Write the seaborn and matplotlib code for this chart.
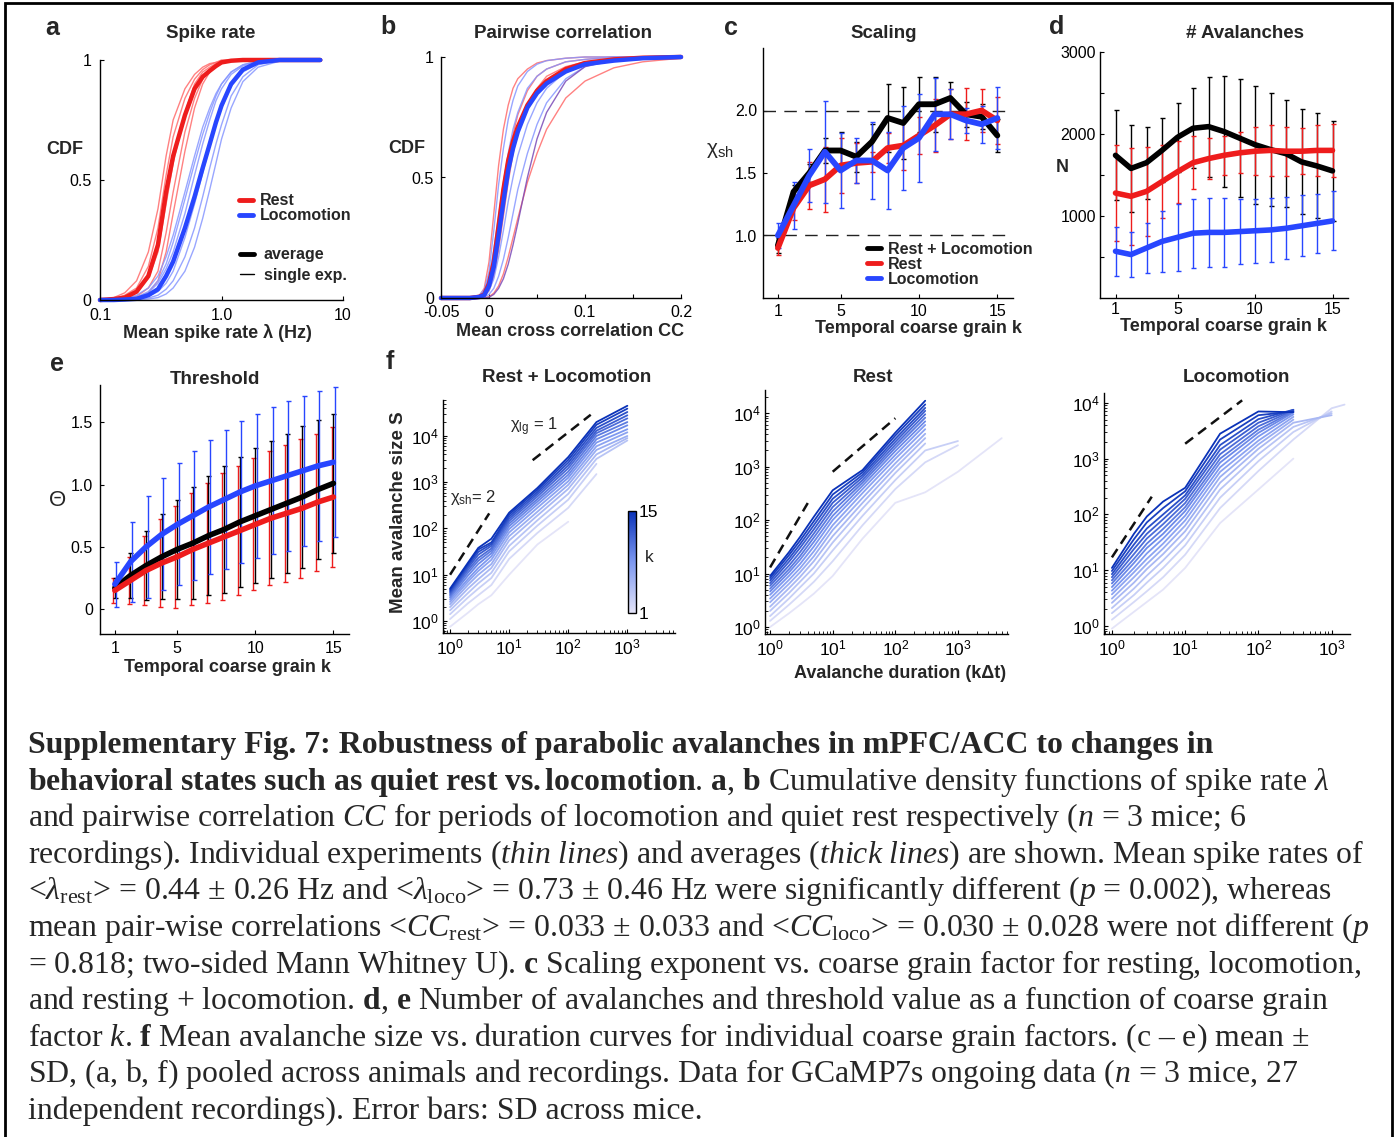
import numpy as np
import pandas as pd
import matplotlib
matplotlib.use('Agg')
import matplotlib.pyplot as plt
import seaborn as sns
from matplotlib.colors import LinearSegmentedColormap, Normalize
from matplotlib.cm import ScalarMappable
from matplotlib.lines import Line2D
from matplotlib.patches import Rectangle
from matplotlib.ticker import FixedLocator, NullLocator, FuncFormatter, LogLocator, NullFormatter

nan = np.nan
# ---------------- panel a : spike-rate CDFs ----------------
lam_grid = [0.1, 0.13, 0.16, 0.2, 0.25, 0.3, 0.35, 0.4, 0.5, 0.6, 0.7, 0.8, 0.9, 1.0, 1.2, 1.5, 2.0, 3.0, 5.0, 6.5]
rate_rest_avg = [0, 0.004, 0.01, 0.035, 0.1, 0.23, 0.45, 0.6, 0.77, 0.88, 0.93, 0.955, 0.975, 0.99, 0.997, 1, 1, 1, 1, 1]
rate_loco_avg = [0, 0, 0.002, 0.005, 0.02, 0.045, 0.1, 0.16, 0.3, 0.43, 0.55, 0.65, 0.74, 0.81, 0.9, 0.96, 0.99, 1, 1, 1]
rate_rest_single = [
    [0, 0.01, 0.03, 0.08, 0.2, 0.38, 0.6, 0.75, 0.88, 0.94, 0.97, 0.985, 0.99, 1, 1, 1, 1, 1, 1, 1],
    [0, 0.005, 0.02, 0.05, 0.14, 0.3, 0.52, 0.68, 0.84, 0.92, 0.96, 0.98, 0.99, 0.995, 1, 1, 1, 1, 1, 1],
    [0, 0.002, 0.008, 0.03, 0.09, 0.2, 0.4, 0.57, 0.78, 0.9, 0.95, 0.97, 0.985, 0.99, 1, 1, 1, 1, 1, 1],
    [0, 0.001, 0.004, 0.015, 0.05, 0.12, 0.28, 0.45, 0.7, 0.84, 0.92, 0.96, 0.98, 0.99, 1, 1, 1, 1, 1, 1],
    [0, 0, 0.002, 0.008, 0.03, 0.08, 0.2, 0.36, 0.62, 0.8, 0.9, 0.95, 0.97, 0.985, 0.995, 1, 1, 1, 1, 1],
]
rate_loco_single = [
    [0, 0.002, 0.006, 0.02, 0.05, 0.1, 0.18, 0.27, 0.45, 0.6, 0.72, 0.8, 0.86, 0.9, 0.95, 0.98, 0.995, 1, 1, 1],
    [0, 0.001, 0.003, 0.01, 0.03, 0.07, 0.13, 0.2, 0.36, 0.52, 0.65, 0.75, 0.83, 0.88, 0.94, 0.975, 0.99, 1, 1, 1],
    [0, 0, 0.001, 0.004, 0.015, 0.035, 0.07, 0.12, 0.26, 0.4, 0.53, 0.64, 0.73, 0.8, 0.89, 0.95, 0.985, 1, 1, 1],
    [0, 0, 0, 0.002, 0.008, 0.02, 0.045, 0.08, 0.18, 0.3, 0.43, 0.55, 0.65, 0.73, 0.85, 0.93, 0.98, 0.998, 1, 1],
    [0, 0, 0, 0.001, 0.004, 0.01, 0.025, 0.05, 0.12, 0.22, 0.34, 0.46, 0.57, 0.67, 0.8, 0.91, 0.97, 0.995, 1, 1],
    [0, 0.001, 0.004, 0.012, 0.035, 0.08, 0.15, 0.24, 0.42, 0.57, 0.69, 0.78, 0.85, 0.9, 0.95, 0.98, 0.995, 1, 1, 1],
]

# ---------------- panel b : correlation CDFs ----------------
cc_grid = [-0.05, -0.02, -0.01, -0.005, 0, 0.005, 0.01, 0.015, 0.02, 0.025, 0.03, 0.04, 0.05, 0.06, 0.08, 0.1, 0.13, 0.16, 0.2]
cc_rest_avg = [0, 0, 0.005, 0.015, 0.06, 0.15, 0.3, 0.45, 0.57, 0.65, 0.71, 0.8, 0.86, 0.9, 0.95, 0.975, 0.99, 0.997, 1]
cc_loco_avg = [0, 0, 0.004, 0.012, 0.05, 0.13, 0.26, 0.4, 0.53, 0.62, 0.69, 0.79, 0.85, 0.89, 0.94, 0.97, 0.985, 0.995, 1]
cc_rest_single = [
    [0, 0, 0.01, 0.04, 0.15, 0.35, 0.55, 0.7, 0.8, 0.87, 0.91, 0.95, 0.975, 0.985, 0.995, 1, 1, 1, 1],
    [0, 0, 0.003, 0.01, 0.04, 0.12, 0.27, 0.43, 0.57, 0.68, 0.76, 0.86, 0.92, 0.95, 0.98, 0.99, 1, 1, 1],
    [0, 0, 0, 0.001, 0.005, 0.02, 0.05, 0.1, 0.17, 0.25, 0.33, 0.48, 0.6, 0.7, 0.83, 0.9, 0.955, 0.98, 0.995],
    [0, 0, 0.002, 0.008, 0.03, 0.09, 0.2, 0.34, 0.48, 0.6, 0.69, 0.8, 0.87, 0.92, 0.96, 0.98, 0.995, 1, 1],
]
cc_loco_single = [
    [0, 0.001, 0.01, 0.03, 0.11, 0.28, 0.47, 0.62, 0.74, 0.82, 0.88, 0.94, 0.97, 0.985, 0.995, 1, 1, 1, 1],
    [0, 0.002, 0.012, 0.035, 0.09, 0.2, 0.34, 0.48, 0.6, 0.7, 0.77, 0.87, 0.92, 0.95, 0.98, 0.99, 1, 1, 1],
    [0, 0, 0.003, 0.01, 0.03, 0.08, 0.17, 0.28, 0.4, 0.5, 0.59, 0.72, 0.81, 0.87, 0.94, 0.97, 0.99, 1, 1],
    [0, 0, 0.001, 0.004, 0.015, 0.04, 0.09, 0.16, 0.25, 0.35, 0.45, 0.6, 0.72, 0.81, 0.91, 0.96, 0.985, 0.995, 1],
]
cc_mixed_single = [0, 0, 0, 0, 0.003, 0.015, 0.04, 0.08, 0.14, 0.22, 0.31, 0.5, 0.66, 0.77, 0.9, 0.96, 0.99, 0.997, 1]

# ---------------- panels c-e ----------------
k_values = list(range(1, 16))
chi_both = [0.92, 1.35, 1.50, 1.68, 1.68, 1.63, 1.75, 1.94, 1.90, 2.05, 2.05, 2.10, 1.97, 1.95, 1.80]
chi_both_sd = [0.06, 0.05, 0.07, 0.10, 0.15, 0.12, 0.14, 0.27, 0.29, 0.22, 0.22, 0.13, 0.10, 0.10, 0.13]
chi_rest = [0.90, 1.22, 1.40, 1.45, 1.56, 1.58, 1.59, 1.70, 1.72, 1.80, 1.88, 1.97, 1.97, 2.00, 1.92]
chi_rest_sd = [0.06, 0.10, 0.19, 0.26, 0.22, 0.16, 0.08, 0.12, 0.20, 0.15, 0.21, 0.20, 0.21, 0.17, 0.19]
chi_loco = [1.00, 1.24, 1.48, 1.67, 1.52, 1.60, 1.60, 1.52, 1.70, 1.78, 1.97, 1.97, 1.92, 1.89, 1.94]
chi_loco_sd = [0.10, 0.19, 0.21, 0.41, 0.30, 0.18, 0.31, 0.31, 0.34, 0.35, 0.29, 0.20, 0.10, 0.15, 0.25]

n_both = [1740, 1580, 1650, 1800, 1960, 2070, 2090, 2030, 1950, 1870, 1810, 1760, 1660, 1610, 1550]
n_both_sd = [550, 530, 440, 390, 420, 490, 610, 680, 720, 720, 690, 650, 640, 640, 610]
n_rest = [1280, 1240, 1300, 1420, 1540, 1650, 1700, 1740, 1770, 1790, 1800, 1790, 1790, 1800, 1800]
n_rest_sd = [590, 590, 540, 450, 380, 320, 250, 240, 250, 290, 310, 300, 280, 310, 320]
n_loco = [570, 530, 610, 690, 740, 790, 800, 800, 810, 820, 830, 850, 880, 910, 940]
n_loco_sd = [300, 280, 310, 370, 410, 420, 420, 420, 400, 390, 390, 380, 370, 360, 360]

theta_both = [0.17, 0.27, 0.35, 0.42, 0.48, 0.53, 0.59, 0.64, 0.70, 0.75, 0.80, 0.85, 0.90, 0.96, 1.01]
theta_both_sd = [0.08, 0.18, 0.28, 0.34, 0.40, 0.45, 0.48, 0.51, 0.52, 0.54, 0.55, 0.56, 0.57, 0.56, 0.56]
theta_rest = [0.15, 0.23, 0.31, 0.37, 0.42, 0.48, 0.53, 0.58, 0.63, 0.68, 0.73, 0.77, 0.81, 0.86, 0.90]
theta_rest_sd = [0.10, 0.19, 0.28, 0.35, 0.41, 0.45, 0.48, 0.51, 0.52, 0.53, 0.54, 0.55, 0.56, 0.55, 0.56]
theta_loco = [0.20, 0.38, 0.50, 0.60, 0.68, 0.75, 0.82, 0.88, 0.94, 0.99, 1.03, 1.07, 1.11, 1.15, 1.18]
theta_loco_sd = [0.18, 0.32, 0.41, 0.45, 0.49, 0.52, 0.54, 0.56, 0.57, 0.58, 0.59, 0.60, 0.60, 0.60, 0.60]

# ---------------- panel f : size vs duration, one row per k=1..15 ----------------
dur_both = [1, 2, 3, 5, 10, 30, 100, 300, 1000]
size_both = [
    [0.75, 1.5, 2.3, 3.6, 10, 45, 140, nan, nan],
    [1.1, 2.4, 3.6, 6, 22, 80, 280, 1500, nan],
    [1.4, 3.2, 5, 8.5, 32, 115, 420, 2500, nan],
    [1.7, 4.0, 6.5, 11, 42, 150, 560, 3200, 8000],
    [2.0, 5.0, 8, 14, 55, 190, 720, 4000, 9000],
    [2.3, 6, 10, 17, 68, 230, 880, 5000, 10000],
    [2.6, 7, 12, 21, 82, 280, 1050, 6000, 12000],
    [2.9, 8, 14, 25, 97, 330, 1250, 7200, 14000],
    [3.2, 9.5, 17, 29, 112, 380, 1450, 8500, 17000],
    [3.5, 11, 20, 33, 128, 430, 1700, 10000, 20000],
    [3.8, 12.5, 23, 37, 145, 490, 2000, 11500, 24000],
    [4.1, 14, 27, 42, 162, 550, 2300, 13000, 28000],
    [4.4, 15.5, 31, 46, 180, 610, 2650, 15000, 33000],
    [4.7, 17, 35, 50, 200, 680, 3050, 17500, 39000],
    [5.0, 18, 38, 60, 220, 750, 3500, 20000, 45000],
]
dur_rest = [1, 2, 3, 5, 10, 30, 100, 300, 1000, 5000]
size_rest = [
    [1.0, 1.8, 2.6, 4.2, 9, 45, 210, 330, 800, 3400],
    [1.3, 2.6, 4, 7, 17, 80, 380, 1200, 2500, nan],
    [1.6, 3.4, 5.5, 10, 27, 120, 560, 2000, 3000, nan],
    [2.0, 4.3, 7, 13, 38, 165, 760, 2700, nan, nan],
    [2.4, 5.3, 8.6, 17, 50, 210, 950, 3400, nan, nan],
    [2.9, 6.4, 10.5, 21, 65, 260, 1150, 4100, nan, nan],
    [3.4, 7.6, 12.5, 26, 80, 320, 1400, 5000, nan, nan],
    [4.0, 9, 15, 32, 100, 380, 1650, 6000, nan, nan],
    [4.6, 10.5, 18, 39, 120, 440, 1950, 7000, nan, nan],
    [5.2, 12, 21, 47, 145, 500, 2250, 8200, nan, nan],
    [5.9, 14, 25, 56, 175, 560, 2550, 9500, nan, nan],
    [6.6, 16.5, 30, 67, 210, 630, 2900, 11000, nan, nan],
    [7.4, 19, 35, 80, 250, 700, 3300, 12500, nan, nan],
    [8.2, 22, 41, 95, 300, 780, 3800, 14500, nan, nan],
    [9.0, 25, 48, 115, 360, 860, 4300, 17000, nan, nan],
]
dur_loco = [1, 2, 3, 5, 10, 30, 100, 300, 1000, 1500]
size_loco = [
    [0.9, 1.8, 2.7, 4.5, 11, 70, 280, 1000, nan, nan],
    [1.3, 2.7, 4.2, 7.5, 19, 130, 600, 2200, 8000, 9300],
    [1.7, 3.6, 6, 11, 28, 200, 900, 3000, 7000, nan],
    [2.1, 4.7, 8, 15, 38, 280, 1200, 3700, 6500, nan],
    [2.6, 6, 10.5, 19.5, 50, 370, 1500, 4400, 6000, nan],
    [3.1, 7.5, 13, 24.5, 63, 470, 1800, 5000, nan, nan],
    [3.7, 9.2, 16, 30, 78, 580, 2100, 5600, nan, nan],
    [4.3, 11, 20, 37, 95, 700, 2500, 6200, nan, nan],
    [5.0, 13.5, 25, 45, 115, 850, 2900, 6700, nan, nan],
    [5.8, 16, 30, 55, 135, 1000, 3300, 7000, nan, nan],
    [6.6, 19.5, 37, 67, 160, 1200, 3800, 7300, nan, nan],
    [7.5, 24, 45, 82, 190, 1450, 4400, 7500, nan, nan],
    [8.5, 29, 56, 100, 220, 1750, 5100, 7500, nan, nan],
    [9.7, 36, 72, 130, 260, 2200, 6000, 7000, nan, nan],
    [11, 45, 92, 170, 300, 2800, 7000, 6800, nan, nan],
]
# dashed guide lines (chi_sh = 2, chi_lg = 1): x pair, y pair
guide_both = [([1, 4.6], [10, 212]), ([25, 240], [3000, 28800])]
guide_rest = [([1, 4.0], [13, 208]), ([10, 100], [800, 8000])]
guide_loco = [([1, 3.5], [17, 208]), ([10, 60], [1850, 11100])]

# ---------------- style ----------------
sns.set_theme(style='ticks', rc={'axes.edgecolor': 'black', 'xtick.color': 'black',
                                 'ytick.color': 'black', 'axes.linewidth': 1.0})
plt.rcParams['font.family'] = ['Liberation Sans', 'DejaVu Sans']
plt.rcParams['mathtext.fontset'] = 'custom'
plt.rcParams['mathtext.rm'] = 'Liberation Serif'
plt.rcParams['mathtext.it'] = 'Liberation Serif:italic'
plt.rcParams['mathtext.bf'] = 'Liberation Serif:bold'
plt.rcParams['mathtext.sf'] = 'Liberation Sans'

W, H = 1400, 1137
fig = plt.figure(figsize=(14, 11.37), dpi=100)
fig.patch.set_facecolor('white')


def box(x0, y0, x1, y1):
    return [x0 / W, 1 - y1 / H, (x1 - x0) / W, (y1 - y0) / H]


def ftext(x, y, s, **kw):
    kw.setdefault('ha', 'center')
    kw.setdefault('va', 'center')
    fig.text(x / W, 1 - y / H, s, **kw)


def style(ax, pad=4, size=11.5):
    sns.despine(ax=ax)
    ax.set_facecolor('white')
    ax.tick_params(which='major', direction='in', length=3, width=0.8, labelsize=size, pad=pad)
    ax.tick_params(which='minor', direction='in', length=2, width=0.6)
    ax.set_xlabel('')
    ax.set_ylabel('')


def line(ax, x, y, **kw):
    x = np.asarray(x, float)
    y = np.asarray(y, float)
    m = ~np.isnan(y)
    sns.lineplot(x=x[m], y=y[m], ax=ax, estimator=None, sort=False, legend=False, **kw)


RED = '#ee1c1c'
BLUE = '#2846ff'
LRED = '#ff6b6b'
LBLUE = '#8797ff'
PURPLE = '#7a4ab8'
TITLE = dict(fontsize=13.5, fontweight='bold')
LAB = dict(fontsize=13, fontweight='bold')
PANEL = dict(fontsize=18, fontweight='bold')

# ---------------- a ----------------
axA = fig.add_axes(box(100, 60, 343, 300))
axA.set_xscale('log')
for c in rate_rest_single:
    line(axA, lam_grid, c, color=LRED, lw=1.0, alpha=0.85, clip_on=False)
for c in rate_loco_single:
    line(axA, lam_grid, c, color=LBLUE, lw=1.0, alpha=0.85, clip_on=False)
line(axA, lam_grid, rate_rest_avg, color=RED, lw=3.2, clip_on=False)
line(axA, lam_grid, rate_loco_avg, color=BLUE, lw=3.2, clip_on=False)
axA.set_xlim(0.1, 10)
axA.set_ylim(0, 1)
axA.set_xticks([0.1, 1, 10])
axA.set_xticklabels(['0.1', '1.0', '10'])
axA.xaxis.set_minor_locator(NullLocator())
axA.set_yticks([0, 0.5, 1])
axA.set_yticklabels(['0', '0.5', '1'])
style(axA, pad=6)
leg1 = axA.legend([Line2D([], [], color=RED, lw=3.5), Line2D([], [], color=BLUE, lw=3.5)],
                  ['Rest', 'Locomotion'], loc='upper left', bbox_to_anchor=(0.57, 0.445),
                  frameon=False, handlelength=0.9, handletextpad=0.45, labelspacing=0.0,
                  borderpad=0, borderaxespad=0, prop={'weight': 'bold', 'size': 11.5})
axA.add_artist(leg1)
axA.legend([Line2D([], [], color='black', lw=3.5), Line2D([], [], color='black', lw=1)],
           ['average', 'single exp.'], loc='upper left', bbox_to_anchor=(0.575, 0.22),
           frameon=False, handlelength=0.9, handletextpad=0.6, labelspacing=0.35,
           borderpad=0, borderaxespad=0, prop={'weight': 'bold', 'size': 11.5})
ftext(52, 28, 'a', **PANEL)
ftext(211, 33, 'Spike rate', **TITLE)
ftext(65, 150, 'CDF', **LAB)
ftext(217, 333, 'Mean spike rate λ (Hz)', **LAB)

# ---------------- b ----------------
axB = fig.add_axes(box(441, 57, 681, 298))
for c in cc_rest_single:
    line(axB, cc_grid, c, color=LRED, lw=1.0, alpha=0.85, clip_on=False)
for c in cc_loco_single:
    line(axB, cc_grid, c, color=LBLUE, lw=1.0, alpha=0.85, clip_on=False)
line(axB, cc_grid, cc_mixed_single, color=PURPLE, lw=1.0, alpha=0.85, clip_on=False)
line(axB, cc_grid, cc_rest_avg, color=RED, lw=3.2, clip_on=False)
line(axB, cc_grid, cc_loco_avg, color=BLUE, lw=3.2, clip_on=False)
axB.set_xlim(-0.05, 0.2)
axB.set_ylim(0, 1)
axB.set_xticks([-0.05, 0, 0.05, 0.1, 0.15, 0.2])
axB.set_xticklabels(['-0.05', '0', '', '0.1', '', '0.2'])
axB.set_yticks([0, 0.5, 1])
axB.set_yticklabels(['0', '0.5', '1'])
style(axB, pad=5)
ftext(388, 27, 'b', **PANEL)
ftext(563, 33, 'Pairwise correlation', **TITLE)
ftext(407, 148, 'CDF', **LAB)
ftext(570, 332, 'Mean cross correlation CC', **LAB)

# ---------------- c ----------------
axC = fig.add_axes(box(763, 48, 1013, 298))
for yv in [1.0, 2.0]:
    axC.axhline(yv, xmin=0.0, xmax=0.97, color='#222222', lw=1.0, dashes=(9, 6))
for y, sd, col in [(chi_both, chi_both_sd, 'black'), (chi_rest, chi_rest_sd, RED), (chi_loco, chi_loco_sd, BLUE)]:
    axC.errorbar(k_values, y, yerr=sd, fmt='none', ecolor=col, elinewidth=1.0, capsize=1.8, capthick=1.0)
for y, col in [(chi_both, 'black'), (chi_rest, RED), (chi_loco, BLUE)]:
    line(axC, k_values, y, color=col, lw=4.2)
axC.set_xlim(0.05, 16)
axC.set_ylim(0.5, 2.5)
axC.set_xticks([1, 5, 10, 15])
axC.set_yticks([1.0, 1.5, 2.0])
axC.set_yticklabels(['1.0', '1.5', '2.0'])
style(axC, pad=4)
axC.legend([Line2D([], [], color='black', lw=3.5), Line2D([], [], color=RED, lw=3.5),
            Line2D([], [], color=BLUE, lw=3.5)],
           ['Rest + Locomotion', 'Rest', 'Locomotion'], loc='upper left',
           bbox_to_anchor=(0.415, 0.225), frameon=False, handlelength=0.9, handletextpad=0.45,
           labelspacing=0.0, borderpad=0, borderaxespad=0, prop={'weight': 'bold', 'size': 11.5})
ftext(731, 28, 'c', **PANEL)
ftext(884, 33, 'Scaling', **TITLE)
ftext(720, 150, r'$\mathsf{χ_{sh}}$', fontsize=15)
ftext(918, 328, 'Temporal coarse grain k', **LAB)

# ---------------- d ----------------
axD = fig.add_axes(box(1100, 52, 1348, 298))
for y, sd, col in [(n_both, n_both_sd, 'black'), (n_rest, n_rest_sd, RED), (n_loco, n_loco_sd, BLUE)]:
    axD.errorbar(k_values, y, yerr=sd, fmt='none', ecolor=col, elinewidth=1.0, capsize=1.8, capthick=1.0)
for y, col in [(n_both, 'black'), (n_rest, RED), (n_loco, BLUE)]:
    line(axD, k_values, y, color=col, lw=4.0)
axD.set_xlim(0.0, 16)
axD.set_ylim(0, 3000)
axD.set_xticks([1, 5, 10, 15])
axD.set_yticks([500, 1000, 1500, 2000, 2500, 3000])
axD.set_yticklabels(['', '1000', '', '2000', '', '3000'])
style(axD, pad=3)
ftext(1057, 27, 'd', **PANEL)
ftext(1245, 33, '# Avalanches', **TITLE)
ftext(1062, 167, 'N', **LAB)
ftext(1223, 327, 'Temporal coarse grain k', **LAB)

# ---------------- e ----------------
axE = fig.add_axes(box(100, 385, 349, 634))
k_arr = np.array(k_values, float)
for y, sd, col, off in [(theta_rest, theta_rest_sd, RED, -0.12), (theta_both, theta_both_sd, 'black', 0.0),
                        (theta_loco, theta_loco_sd, BLUE, 0.1)]:
    axE.errorbar(k_arr + off, y, yerr=sd, fmt='none', ecolor=col, elinewidth=1.0, capsize=1.8, capthick=1.0)
for y, col in [(theta_both, 'black'), (theta_rest, RED), (theta_loco, BLUE)]:
    line(axE, k_values, y, color=col, lw=4.0)
axE.set_xlim(0.05, 16)
axE.set_ylim(-0.2, 1.8)
axE.set_xticks([1, 5, 10, 15])
axE.set_yticks([0, 0.5, 1.0, 1.5])
axE.set_yticklabels(['0', '0.5', '1.0', '1.5'])
style(axE, pad=5)
ftext(57, 364, 'e', **PANEL)
ftext(215, 380, 'Threshold', **TITLE)
ftext(58, 500, 'Θ', fontsize=16)
ftext(227, 667, 'Temporal coarse grain k', **LAB)

# ---------------- f ----------------
cmap = LinearSegmentedColormap.from_list('kblue', ['#e4e4f8', '#7d98f0', '#0a32b8'])
norm = Normalize(1, 15)


def logfmt(v, pos):
    e = int(round(np.log10(v)))
    return r'$\mathsf{10^{%d}}$' % e


def fpanel(rect, dur, sizes, guides, xlim, ylim):
    ax = fig.add_axes(box(*rect))
    ax.set_xscale('log')
    ax.set_yscale('log')
    for i, row in enumerate(sizes):
        line(ax, dur, row, color=cmap(norm(i + 1)), lw=1.3)
    for gx, gy in guides:
        line(ax, gx, gy, color='#111111', lw=1.8, dashes=(4, 2.5))
    ax.set_xlim(*xlim)
    ax.set_ylim(*ylim)
    for axis in (ax.xaxis, ax.yaxis):
        axis.set_major_locator(LogLocator(base=10, numticks=12))
        axis.set_major_formatter(FuncFormatter(logfmt))
        axis.set_minor_locator(LogLocator(base=10, subs=np.arange(2, 10), numticks=12))
        axis.set_minor_formatter(NullFormatter())
    style(ax, pad=3, size=12.5)
    return ax


axF1 = fpanel((443, 400, 675, 633), dur_both, size_both, guide_both, (0.76, 6400), (0.55, 60000))
axF2 = fpanel((765, 390, 1008, 634), dur_rest, size_rest, guide_rest, (0.83, 6300), (0.74, 27000))
axF3 = fpanel((1104, 393, 1350, 634), dur_loco, size_loco, guide_loco, (0.78, 1780), (0.72, 15000))

ftext(534, 427, r'$\mathsf{χ_{lg}}$ = 1', fontsize=12)
ftext(473, 497, r'$\mathsf{χ_{sh}}$= 2', fontsize=12)

cax = fig.add_axes(box(628, 511, 636, 613))
cb = fig.colorbar(ScalarMappable(norm=norm, cmap=cmap), cax=cax, ticks=[1, 15])
cb.outline.set_linewidth(1.0)
cb.outline.set_edgecolor('black')
cax.tick_params(length=0, labelsize=12.5, pad=2)
ftext(649, 557, 'k', fontsize=12.5)

ftext(390, 362, 'f', **PANEL)
ftext(567, 378, 'Rest + Locomotion', **TITLE)
ftext(873, 378, 'Rest', **TITLE)
ftext(1236, 377, 'Locomotion', **TITLE)
ftext(399, 512, 'Mean avalanche size S', rotation=90, fontsize=13.5, fontweight='bold')
ftext(900, 673, 'Avalanche duration (kΔt)', **LAB)

# ---------------- caption ----------------
cap_lines = [
    'Supplementary Fig. 7: Robustness of parabolic avalanches in mPFC/ACC to changes in',
    r'$\mathbf{behavioral\ states\ such\ as\ quiet\ rest\ vs.locomotion}$. $\mathbf{a}$, $\mathbf{b}$ Cumulative density functions of spike rate $\mathit{λ}$',
    r'and pairwise correlation $\mathit{CC}$ for periods of locomotion and quiet rest respectively ($\mathit{n}$ = 3 mice; 6',
    r'recordings). Individual experiments ($\mathit{thin\ lines}$) and averages ($\mathit{thick\ lines}$) are shown. Mean spike rates of',
    r'<$\mathit{λ}_{\mathrm{rest}}$> = 0.44 ± 0.26 Hz and <$\mathit{λ}_{\mathrm{loco}}$> = 0.73 ± 0.46 Hz were significantly different ($\mathit{p}$ = 0.002), whereas',
    r'mean pair-wise correlations <$\mathit{CC}_{\mathrm{rest}}$> = 0.033 ± 0.033 and <$\mathit{CC}_{\mathrm{loco}}$> = 0.030 ± 0.028 were not different ($\mathit{p}$',
    r'= 0.818; two-sided Mann Whitney U). $\mathbf{c}$ Scaling exponent vs. coarse grain factor for resting, locomotion,',
    r'and resting + locomotion. $\mathbf{d}$, $\mathbf{e}$ Number of avalanches and threshold value as a function of coarse grain',
    r'factor $\mathit{k}$. $\mathbf{f}$ Mean avalanche size vs. duration curves for individual coarse grain factors. (c – e) mean ±',
    r'SD, (a, b, f) pooled across animals and recordings. Data for GCaMP7s ongoing data ($\mathit{n}$ = 3 mice, 27',
    'independent recordings). Error bars: SD across mice.',
]
for i, s in enumerate(cap_lines):
    ftext(28, 753 + 36.6 * i, s, ha='left', va='baseline', fontsize=22.9,
          family='Liberation Serif', fontweight='bold' if i == 0 else 'normal')

# frame
fig.add_artist(Rectangle((5 / W, -0.01), (1392 - 5) / W, 1 - 3 / H + 0.01, transform=fig.transFigure,
                         fill=False, edgecolor='black', lw=2.0))

fig.savefig('out.png', dpi=100, facecolor='white')
